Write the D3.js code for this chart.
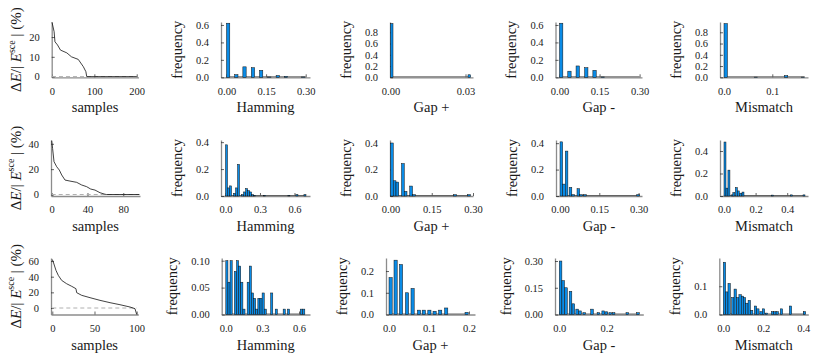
<!DOCTYPE html>
<html><head><meta charset="utf-8">
<script src="https://cdn.jsdelivr.net/npm/d3@7"></script>
<style>
body{margin:0;background:#fff}
svg{display:block}
text{font-family:"Liberation Serif","Times New Roman",serif;fill:#1a1a1a}
</style></head>
<body><svg id="c" width="830" height="356"></svg>
<script>
// ---------------- DATA ----------------
const xLabels = ["samples", "Hamming", "Gap +", "Gap -", "Mismatch"];

// energy error curves (sample index, percent)
const samples1X = [0, 5, 7, 13, 20, 35, 46, 62, 74, 80, 82, 200];
const samples1Y = [27.5, 22.7, 17.6, 16, 13.4, 12, 10, 8.7, 5, 2.5, 0, 0];
const samples2X = [0, 1, 2.6, 5.6, 8.5, 11.2, 14.9, 20.4, 27.9, 33.5, 39, 43.6, 48.4, 54, 59.6, 61.4, 98];
const samples2Y = [42.5, 36.4, 25.9, 21.9, 19.3, 15.4, 11.4, 10.6, 9.6, 7.5, 6.2, 4.3, 3.5, 1.4, 0.2, 0, 0];
const samples3X = [0, 1.2, 4.4, 7.1, 11.1, 17, 23, 28, 28.9, 34.8, 44.7, 56.5, 68.4, 80.2, 92, 98, 100];
const samples3Y = [62, 58.7, 48, 41.7, 35.3, 31, 27.7, 24.7, 19.6, 16.2, 13.2, 9.8, 6.8, 4.2, 1.3, -0.9, -8.2];

// histograms: bin left edges, frequencies, bin width, last edge of (empty) bins
const ham1X = [0, 0.031, 0.062, 0.094, 0.125, 0.156, 0.188, 0.219, 0.285];
const ham1F = [0.62, 0.03, 0.12, 0.11, 0.08, 0.004, 0.02, 0.01, 0.004];
const ham1W = 0.0125, ham1End = 0.30;
const gp1X = [0, 0.031];
const gp1F = [0.955, 0.045];
const gp1W = 0.001, gp1End = 0.032;
const gm1X = [0, 0.031, 0.062, 0.094, 0.125, 0.156];
const gm1F = [0.62, 0.07, 0.13, 0.11, 0.08, 0.004];
const gm1W = 0.0125, gm1End = 0.30;
const mm1X = [0, 0.0625, 0.125, 0.16];
const mm1F = [0.955, 0.004, 0.03, 0.004];
const mm1W = 0.007, mm1End = 0.167;

const ham2X = [0, 0.0175, 0.035, 0.07, 0.0875, 0.105, 0.14, 0.1575, 0.175, 0.1925, 0.21, 0.2275, 0.245, 0.3325, 0.5425, 0.6125, 0.6825];
const ham2F = [0.38, 0.06, 0.075, 0.02, 0.06, 0.235, 0.01, 0.03, 0.055, 0.04, 0.03, 0.01, 0.005, 0.005, 0.005, 0.01, 0.01];
const ham2W = 0.0175, ham2End = 0.70;
const gp2X = [0, 0.01, 0.02, 0.04, 0.05, 0.07, 0.08, 0.23, 0.28];
const gp2F = [0.40, 0.115, 0.105, 0.245, 0.035, 0.075, 0.01, 0.01, 0.01];
const gp2W = 0.01, gp2End = 0.29;
const gm2X = [0, 0.01, 0.02, 0.035, 0.045, 0.065, 0.075, 0.09, 0.293];
const gm2F = [0.41, 0.09, 0.34, 0.065, 0.01, 0.055, 0.01, 0.01, 0.01];
const gm2W = 0.01, gm2End = 0.303;
const mm2X = [0, 0.0125, 0.025, 0.045, 0.056, 0.072, 0.084, 0.1, 0.114, 0.3, 0.42, 0.5];
const mm2F = [0.48, 0.07, 0.23, 0.01, 0.03, 0.075, 0.045, 0.025, 0.035, 0.008, 0.01, 0.01];
const mm2W = 0.0125, mm2End = 0.51;

const ham3X = [0, 0.0175, 0.035, 0.07, 0.0875, 0.105, 0.1225, 0.14, 0.175, 0.1925, 0.21, 0.2275, 0.245, 0.2625, 0.28, 0.2975, 0.315, 0.3675, 0.405, 0.47, 0.505, 0.61, 0.63];
const ham3F = [0.10, 0.06, 0.10, 0.08, 0.10, 0.09, 0.06, 0.01, 0.06, 0.09, 0.04, 0.03, 0.01, 0.03, 0.03, 0.04, 0.01, 0.04, 0.01, 0.01, 0.01, 0.01, 0.01];
const ham3W = 0.0175, ham3End = 0.65;
const gp3X = [0, 0.0125, 0.026, 0.041, 0.055, 0.071, 0.083, 0.097, 0.11, 0.124, 0.139, 0.19];
const gp3F = [0.17, 0.25, 0.23, 0.10, 0.12, 0.02, 0.02, 0.02, 0.015, 0.02, 0.03, 0.01];
const gp3W = 0.008, gp3End = 0.198;
const gm3X = [0, 0.011, 0.023, 0.042, 0.054, 0.07, 0.082, 0.1, 0.133, 0.16, 0.18, 0.193, 0.21, 0.224, 0.282, 0.327];
const gm3F = [0.30, 0.19, 0.15, 0.13, 0.06, 0.03, 0.02, 0.01, 0.03, 0.01, 0.02, 0.015, 0.01, 0.01, 0.01, 0.01];
const gm3W = 0.011, gm3End = 0.338;
const mm3X = [0, 0.0117, 0.0234, 0.042, 0.0537, 0.067, 0.078, 0.09, 0.1, 0.112, 0.124, 0.136, 0.155, 0.167, 0.183, 0.195, 0.21, 0.24, 0.252, 0.264, 0.285, 0.33, 0.4];
const mm3F = [0.185, 0.08, 0.11, 0.06, 0.09, 0.06, 0.07, 0.065, 0.06, 0.04, 0.05, 0.015, 0.03, 0.02, 0.01, 0.02, 0.005, 0.01, 0.01, 0.01, 0.02, 0.03, 0.01];
const mm3W = 0.0117, mm3End = 0.412;

// tick values
const xt1 = [[0, 100, 200], [0, 0.15, 0.30], [0, 0.03], [0, 0.15, 0.30], [0, 0.1]];
const yt1 = [[0, 10, 20], [0, 0.2, 0.4, 0.6], [0, 0.2, 0.4, 0.6, 0.8], [0, 0.2, 0.4, 0.6], [0, 0.2, 0.4, 0.6, 0.8]];
const xt2 = [[0, 40, 80], [0, 0.3, 0.6], [0, 0.15, 0.30], [0, 0.15, 0.30], [0, 0.2, 0.4]];
const yt2 = [[0, 20, 40], [0, 0.2, 0.4], [0, 0.2, 0.4], [0, 0.2, 0.4], [0, 0.2, 0.4]];
const xt3 = [[0, 50, 100], [0, 0.3, 0.6], [0, 0.1, 0.2], [0, 0.2], [0, 0.2, 0.4]];
const yt3 = [[0, 20, 40, 60], [0, 0.05, 0.10], [0, 0.1, 0.2], [0, 0.15, 0.30], [0, 0.1]];

// ---------------- LAYOUT ----------------
const rows = [{t: 22, b: 77.3}, {t: 140, b: 196}, {t: 258, b: 314.5}];
const f0 = d3.format("d"), f1 = d3.format(".1f"), f2 = d3.format(".2f");
const panels = [
  // row 1
  {r:0,c:0,l:51.7,rt:138.5,xd:[-0.7,204.2],yd:[-0.35,27.6],xt:xt1[0],yt:yt1[0],xf:f0,yf:f0,line:[samples1X,samples1Y]},
  {r:0,c:1,l:221,rt:310,xd:[-0.0208,0.3163],yd:[0,0.634],xt:xt1[1],yt:yt1[1],xf:f2,yf:f1,hist:[ham1X,ham1F,ham1W,ham1End]},
  {r:0,c:2,l:390,rt:473,xd:[-0.0002,0.033],yd:[0,0.983],xt:xt1[2],yt:yt1[2],xf:f2,yf:f1,hist:[gp1X,gp1F,gp1W,gp1End]},
  {r:0,c:3,l:555.5,rt:642,xd:[-0.015,0.309],yd:[0,0.634],xt:xt1[3],yt:yt1[3],xf:f2,yf:f1,hist:[gm1X,gm1F,gm1W,gm1End]},
  {r:0,c:4,l:720,rt:808,xd:[-0.0083,0.1739],yd:[0,0.983],xt:xt1[4],yt:yt1[4],xf:f1,yf:f1,hist:[mm1X,mm1F,mm1W,mm1End]},
  // row 2
  {r:1,c:0,l:51,rt:140,xd:[-0.78,98.7],yd:[-1.18,43.0],xt:xt2[0],yt:yt2[0],xf:f0,yf:f0,line:[samples2X,samples2Y]},
  {r:1,c:1,l:221,rt:310,xd:[-0.039,0.735],yd:[0,0.416],xt:xt2[1],yt:yt2[1],xf:f1,yf:f1,hist:[ham2X,ham2F,ham2W,ham2End]},
  {r:1,c:2,l:390,rt:473,xd:[-0.0018,0.30],yd:[0,0.4226],xt:xt2[2],yt:yt2[2],xf:f2,yf:f1,hist:[gp2X,gp2F,gp2W,gp2End]},
  {r:1,c:3,l:556,rt:642,xd:[-0.0153,0.313],yd:[0,0.424],xt:xt2[3],yt:yt2[3],xf:f2,yf:f1,hist:[gm2X,gm2F,gm2W,gm2End]},
  {r:1,c:4,l:720,rt:808,xd:[-0.0253,0.5316],yd:[0,0.498],xt:xt2[4],yt:yt2[4],xf:f1,yf:f1,hist:[mm2X,mm2F,mm2W,mm2End]},
  // row 3
  {r:2,c:0,l:51,rt:138.3,xd:[-1.54,101.9],yd:[-8.3,63.9],xt:xt3[0],yt:yt3[0],xf:f0,yf:f0,line:[samples3X,samples3Y]},
  {r:2,c:1,l:221.7,rt:310,xd:[-0.0336,0.69],yd:[0,0.105],xt:xt3[1],yt:yt3[1],xf:f1,yf:f2,hist:[ham3X,ham3F,ham3W,ham3End]},
  {r:2,c:2,l:386,rt:475,xd:[-0.0075,0.215],yd:[0,0.26],xt:xt3[2],yt:yt3[2],xf:f1,yf:f1,hist:[gp3X,gp3F,gp3W,gp3End]},
  {r:2,c:3,l:555,rt:643.3,xd:[-0.018,0.355],yd:[0,0.317],xt:xt3[3],yt:yt3[3],xf:f1,yf:f2,hist:[gm3X,gm3F,gm3W,gm3End]},
  {r:2,c:4,l:719.3,rt:808.3,xd:[-0.02,0.425],yd:[0,0.2],xt:xt3[4],yt:yt3[4],xf:f1,yf:f1,hist:[mm3X,mm3F,mm3W,mm3End]}
];

const svg = d3.select("#c");
svg.append("rect").attr("width", 830).attr("height", 356).attr("fill", "#fff");

panels.forEach(p => {
  const row = rows[p.r];
  const xs = d3.scaleLinear().domain(p.xd).range([p.l, p.rt]);
  const ys = d3.scaleLinear().domain(p.yd).range([row.b, row.t]);
  const g = svg.append("g");

  // axes
  const gx = g.append("g").attr("transform", `translate(0,${row.b})`)
    .call(d3.axisBottom(xs).tickValues(p.xt).tickFormat(p.xf).tickSizeInner(-3).tickSizeOuter(0).tickPadding(10));
  const gy = g.append("g").attr("transform", `translate(${p.l},0)`)
    .call(d3.axisLeft(ys).tickValues(p.yt).tickFormat(p.yf).tickSizeInner(-3).tickSizeOuter(0).tickPadding(12));
  [gx, gy].forEach(a => {
    a.select(".domain").attr("stroke", "#8c8c8c").attr("stroke-width", 1.3);
    a.selectAll(".tick line").attr("stroke", "#222").attr("stroke-width", 0.7);
    a.selectAll(".tick text").attr("font-size", "10.5px");
  });

  // x label
  g.append("text").attr("x", (p.l + p.rt) / 2).attr("y", row.b + 35)
    .attr("text-anchor", "middle").attr("font-size", "14.5px").text(xLabels[p.c]);

  const tickLeft = gy.node().getBBox().x + p.l;
  const midY = (row.t + row.b) / 2;

  if (p.line) {
    const [lx, ly] = p.line;
    // reference line at zero
    g.append("line").attr("x1", xs(lx[0])).attr("x2", xs(lx[lx.length - 1]))
      .attr("y1", ys(0)).attr("y2", ys(0))
      .attr("stroke", "#b0b0b0").attr("stroke-width", 1).attr("stroke-dasharray", "4,3");
    const pts = lx.map((v, i) => [v, ly[i]]);
    g.append("path").datum(pts)
      .attr("d", d3.line().x(d => xs(d[0])).y(d => ys(d[1])))
      .attr("fill", "none").attr("stroke", "#111").attr("stroke-width", 0.8);
    // y label
    const t = g.append("text").attr("transform", `translate(${tickLeft - 13},${midY}) rotate(-90)`)
      .attr("text-anchor", "middle").attr("dominant-baseline", "central").attr("font-size", "15px");
    t.append("tspan").text("Δ");
    t.append("tspan").attr("font-style", "italic").text("E");
    t.append("tspan").text("/| ");
    t.append("tspan").attr("font-style", "italic").text("E");
    t.append("tspan").attr("font-size", "10px").attr("dy", "-5.5").text("sce");
    t.append("tspan").attr("dy", "5.5").text(" |   (%)");
  } else {
    const [hx, hf, hw, hend] = p.hist;
    // empty bins outline along baseline
    g.append("line").attr("x1", xs(hx[0])).attr("x2", xs(hend))
      .attr("y1", ys(0) - 0.5).attr("y2", ys(0) - 0.5)
      .attr("stroke", "#555").attr("stroke-width", 0.9);
    const bins = hx.map((v, i) => ({x0: v, x1: v + hw, f: hf[i]}));
    g.selectAll("rect.bar").data(bins).join("rect").attr("class", "bar")
      .attr("x", d => xs(d.x0)).attr("width", d => Math.max(0.8, xs(d.x1) - xs(d.x0)))
      .attr("y", d => ys(d.f)).attr("height", d => ys(0) - ys(d.f))
      .attr("fill", "#0a8be6").attr("stroke", "#111").attr("stroke-width", 0.5);
    g.append("text").attr("transform", `translate(${tickLeft - 19},${midY}) rotate(-90)`)
      .attr("text-anchor", "middle").attr("dominant-baseline", "central").attr("font-size", "14.5px")
      .text("frequency");
  }
});
</script></body></html>
